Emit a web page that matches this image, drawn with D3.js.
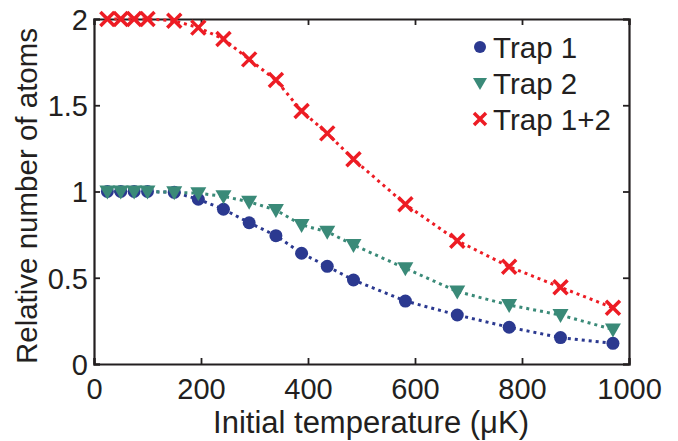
<!DOCTYPE html>
<html><head><meta charset="utf-8">
<script src="https://cdn.jsdelivr.net/npm/d3@7"></script>
<style>
html,body{margin:0;padding:0;background:#fff;}
text{font-family:"Liberation Sans",Arial,Helvetica,sans-serif;fill:#231f20;}
</style></head>
<body>
<svg id="chart" width="678" height="441"></svg>
<script>
const temperatures = [25, 50, 75, 100, 150, 195, 242, 290, 340, 388, 436, 485, 582, 679, 776, 872, 970];
const trap1  = [1.0, 1.0, 1.0, 1.0, 0.995, 0.955, 0.897, 0.819, 0.744, 0.642, 0.566, 0.487, 0.365, 0.284, 0.213, 0.153, 0.12];
const trap2  = [1.0, 1.0, 1.0, 1.0, 0.995, 0.99, 0.972, 0.94, 0.893, 0.806, 0.767, 0.69, 0.555, 0.42, 0.342, 0.284, 0.2];
const trap12 = [2.0, 2.0, 2.0, 2.0, 1.99, 1.95, 1.884, 1.766, 1.646, 1.467, 1.337, 1.187, 0.926, 0.715, 0.564, 0.445, 0.326];
const seriesNames = ["Trap 1", "Trap 2", "Trap 1+2"];
const xTicks = [0, 200, 400, 600, 800, 1000];
const yTicks = [0, 0.5, 1, 1.5, 2];
const yTickLabels = ["0", "0.5", "1", "1.5", "2"];

const svg = d3.select("#chart");
const L = 94, R = 629, T = 19, B = 364;
const x = d3.scaleLinear().domain([0, 1000]).range([L, R]);
const y = d3.scaleLinear().domain([0, 2]).range([B, T]);
const colors = ["#2b3990", "#3a8a78", "#ed1c24"];
const axisColor = "#231f20";

const series = [trap1, trap2, trap12].map((vals, i) => ({
  name: seriesNames[i], color: colors[i],
  pts: temperatures.map((t, j) => [t, vals[j]])
}));

const fsTick = 29;
const gx = svg.append("g").attr("transform", `translate(0,${B})`)
  .call(d3.axisBottom(x).tickValues(xTicks).tickSize(-6).tickPadding(14).tickFormat(d3.format("d")));
const gxt = svg.append("g").attr("transform", `translate(0,${T})`)
  .call(d3.axisTop(x).tickValues(xTicks).tickSize(-6).tickFormat(""));
const gy = svg.append("g").attr("transform", `translate(${L},0)`)
  .call(d3.axisLeft(y).tickValues(yTicks).tickSize(-6).tickPadding(6).tickFormat((d, i) => yTickLabels[i]));
const gyr = svg.append("g").attr("transform", `translate(${R},0)`)
  .call(d3.axisRight(y).tickValues(yTicks).tickSize(-6).tickFormat(""));
[gx, gxt, gy, gyr].forEach(g => {
  g.select(".domain").attr("stroke", axisColor).attr("stroke-width", 2.2);
  g.selectAll(".tick line").attr("stroke", axisColor).attr("stroke-width", 1.8);
  g.selectAll(".tick text").attr("font-size", fsTick).attr("fill", axisColor)
    .style("font-family", '"Liberation Sans",Arial,sans-serif');
});
gy.selectAll(".tick text").attr("dy", "0.36em");

// axis labels
svg.append("text").attr("x", 371).attr("y", 433).attr("text-anchor", "middle")
  .attr("font-size", 31).text("Initial temperature (\u03bcK)");
svg.append("text").attr("transform", `translate(37,196) rotate(-90)`)
  .attr("text-anchor", "middle").attr("font-size", 29.5).text("Relative number of atoms");

// lines
const line = d3.line().x(d => x(d[0])).y(d => y(d[1]));
series.forEach(s => {
  svg.append("path").datum(s.pts).attr("d", line).attr("fill", "none")
    .attr("stroke", s.color).attr("stroke-width", 3).attr("stroke-dasharray", "3,4");
});

// markers
function drawMarker(g, type, color) {
  if (type === 0) {
    g.append("circle").attr("r", 6.5).attr("fill", color);
  } else if (type === 1) {
    g.append("path").attr("d", "M-8,-6 L8,-6 L0,8 Z").attr("fill", color);
  } else {
    g.append("path").attr("d", "M-7,-7 L7,7 M-7,7 L7,-7").attr("stroke", color)
      .attr("stroke-width", 3.5).attr("fill", "none");
  }
}
[0, 1, 2].forEach(i => {
  const s = series[i];
  s.pts.forEach(p => {
    const g = svg.append("g").attr("transform", `translate(${x(p[0])},${y(p[1])})`);
    drawMarker(g, i, s.color);
  });
});

// legend
const legY = [47, 83, 119];
series.forEach((s, i) => {
  const g = svg.append("g").attr("transform", `translate(480,${legY[i]})`);
  if (i === 0) g.append("circle").attr("r", 6).attr("fill", s.color);
  else if (i === 1) g.append("path").attr("d", "M-7,-5 L7,-5 L0,7 Z").attr("fill", s.color);
  else g.append("path").attr("d", "M-6,-6 L6,6 M-6,6 L6,-6").attr("stroke", s.color).attr("stroke-width", 3.5);
  svg.append("text").attr("x", 493).attr("y", legY[i] + 10.5).attr("font-size", 29.5).text(s.name);
});
</script>
</body></html>
